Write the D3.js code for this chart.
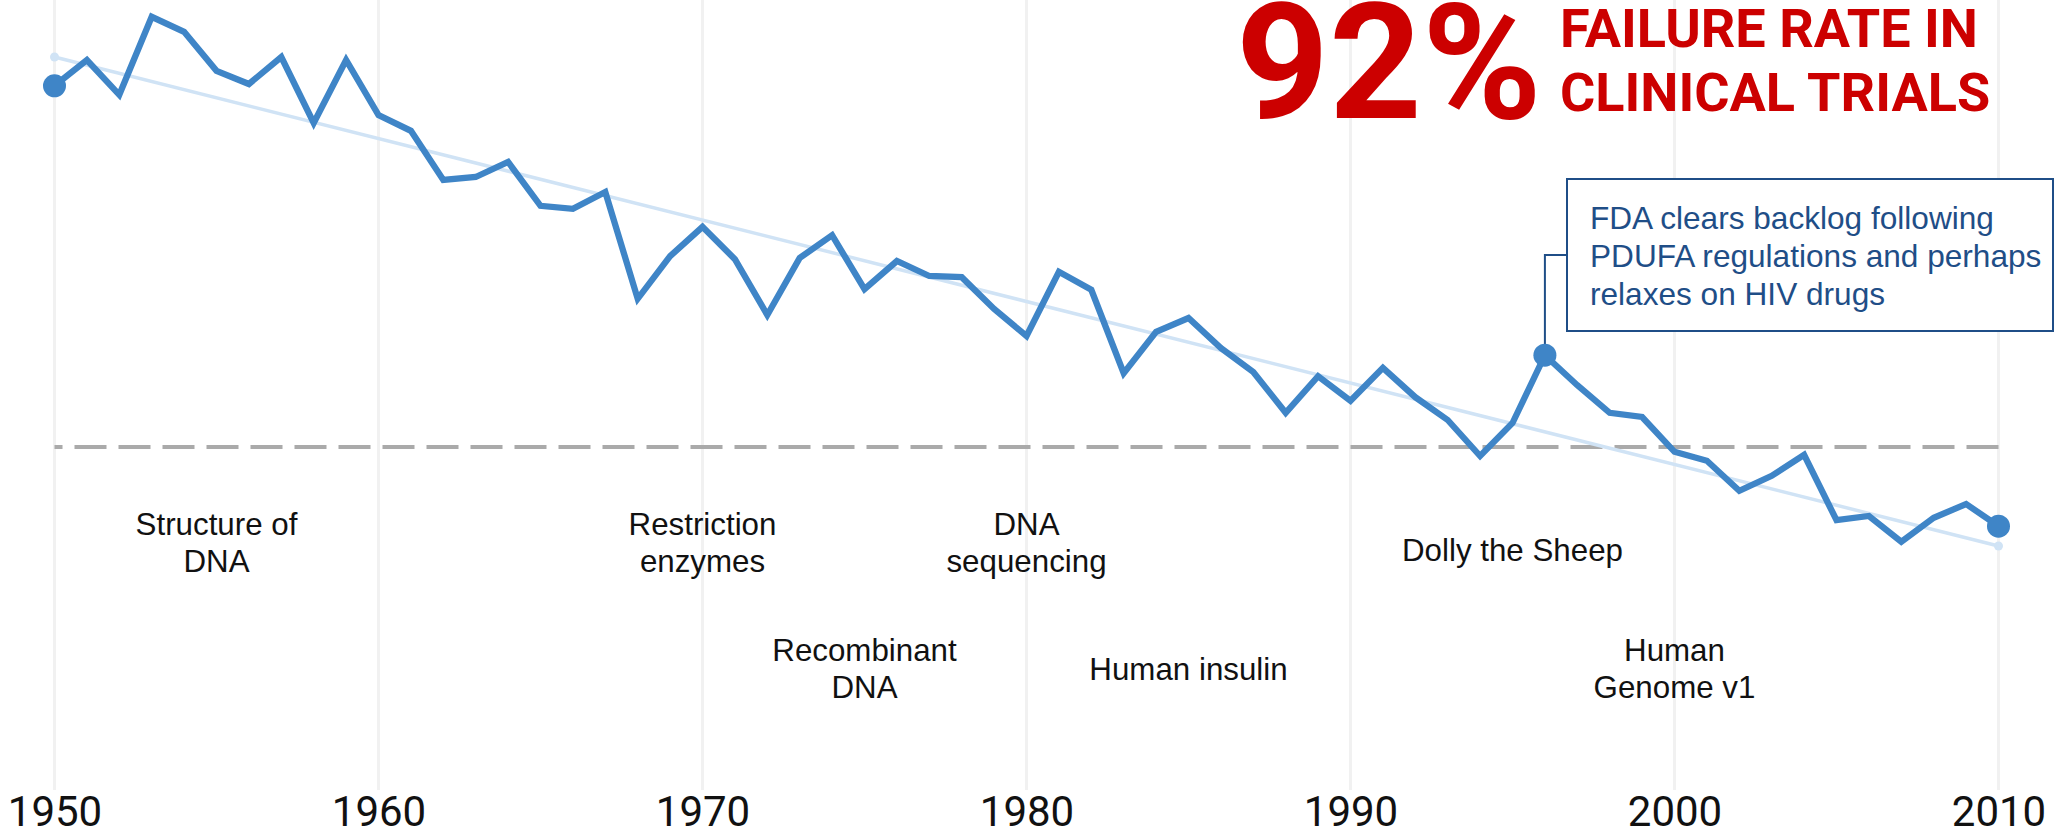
<!DOCTYPE html>
<html>
<head>
<meta charset="utf-8">
<script src="https://cdn.jsdelivr.net/npm/d3@7"></script>
<style>
  html, body { margin: 0; padding: 0; background: #fff; }
  svg { display: block; }
</style>
</head>
<body>
<svg id="chart" width="2059" height="837"></svg>
<script>
// Yearly efficiency index, 1950–2010 (no axis is drawn; the scale is relative)
const years = d3.range(1950, 2011);
const values = [
  85.7, 90.0, 84.2, 97.2, 94.7, 88.2, 86.0, 90.5, 79.5, 90.0,
  80.8, 78.2, 70.0, 70.5, 73.0, 65.7, 65.2, 68.0, 50.2, 57.3,
  62.2, 56.8, 47.5, 57.0, 60.8, 51.8, 56.5, 54.0, 53.8, 48.5,
  44.0, 54.7, 51.7, 37.8, 44.7, 47.0, 42.0, 38.0, 31.2, 37.3,
  33.2, 38.7, 33.8, 30.0, 24.0, 29.5, 40.8, 35.8, 31.2, 30.5,
  24.7, 23.2, 18.2, 20.7, 24.2, 13.3, 14.0, 9.7, 13.7, 16.0,
  12.3
];

// Fitted trend (end points) and reference level
const trendYears = [1950, 2010];
const trendValues = [90.5, 9.0];
const thresholdValue = 25.5;

// Highlighted years
const highlightYears = [1950, 1996, 2010];

// X axis ticks
const tickYears = [1950, 1960, 1970, 1980, 1990, 2000, 2010];

// Scientific milestones
const eventYears = [1955, 1970, 1975, 1980, 1985, 1995, 2000];
const eventLabels = [
  ["Structure of", "DNA"],
  ["Restriction", "enzymes"],
  ["Recombinant", "DNA"],
  ["DNA", "sequencing"],
  ["Human insulin"],
  ["Dolly the Sheep"],
  ["Human", "Genome v1"]
];
const eventRows = [0, 0, 1, 0, 1, 0, 1];

// Callout
const calloutYear = 1996;
const calloutLines = [
  "FDA clears backlog following",
  "PDUFA regulations and perhaps",
  "relaxes on HIV drugs"
];

// Headline
const headlineNumber = "92%";
const headlineLines = ["FAILURE RATE IN", "CLINICAL TRIALS"];

const svg = d3.select("#chart");

const x = d3.scaleLinear().domain([1950, 2010]).range([54.5, 1998.5]);
const y = d3.scaleLinear().domain([0, 100]).range([600, 0]);

const lineBlue = "#3f85c7";
const trendBlue = "#d0e3f5";
const noteBlue = "#1f4e87";

// Vertical gridlines
svg.append("g")
  .selectAll("line")
  .data(tickYears)
  .join("line")
  .attr("x1", d => x(d)).attr("x2", d => x(d))
  .attr("y1", 0).attr("y2", 790)
  .attr("stroke", "#f1f1f1")
  .attr("stroke-width", 3);

// X axis labels
const xAxis = d3.axisBottom(x).tickValues(tickYears).tickFormat(d3.format("d")).tickSize(0).tickPadding(0);
const axisG = svg.append("g").attr("transform", "translate(0,826)").call(xAxis);
axisG.select(".domain").remove();
axisG.selectAll("text")
  .attr("font-family", "Roboto, sans-serif")
  .attr("font-size", 42)
  .attr("fill", "#111")
  .attr("dy", 0)
  .attr("y", 0);

// Reference dashed line, drawn from the right end
svg.append("line")
  .attr("x1", x(2010)).attr("x2", x(1950))
  .attr("y1", y(thresholdValue)).attr("y2", y(thresholdValue))
  .attr("stroke", "#aaaaaa")
  .attr("stroke-width", 4)
  .attr("stroke-dasharray", "32,12");

// Trend line with end markers
const trendData = trendYears.map((t, i) => ({ year: t, value: trendValues[i] }));
svg.append("path")
  .datum(trendData)
  .attr("fill", "none")
  .attr("stroke", trendBlue)
  .attr("stroke-width", 3.5)
  .attr("d", d3.line().x(d => x(d.year)).y(d => y(d.value)));
svg.append("g")
  .selectAll("circle")
  .data(trendData)
  .join("circle")
  .attr("cx", d => x(d.year)).attr("cy", d => y(d.value))
  .attr("r", 4.5)
  .attr("fill", trendBlue);

// Milestone labels
const rowFirstBaseline = [535, 661];
const rowSingleBaseline = [561, 680];
const lineGap = 37;
const evG = svg.append("g")
  .attr("font-family", "'Liberation Sans', Arial, sans-serif")
  .attr("font-size", 31.3)
  .attr("fill", "#111")
  .attr("text-anchor", "middle");
eventYears.forEach((yr, i) => {
  const lines = eventLabels[i];
  const row = eventRows[i];
  const base = lines.length === 1 ? rowSingleBaseline[row] : rowFirstBaseline[row];
  const t = evG.append("text").attr("x", x(yr)).attr("y", base);
  lines.forEach((ln, j) => {
    t.append("tspan").attr("x", x(yr)).attr("y", base + j * lineGap).text(ln);
  });
});

// Main series
const series = years.map((yr, i) => ({ year: yr, value: values[i] }));
svg.append("path")
  .datum(series)
  .attr("fill", "none")
  .attr("stroke", lineBlue)
  .attr("stroke-width", 6.3)
  .attr("stroke-linejoin", "miter")
  .attr("d", d3.line().x(d => x(d.year)).y(d => y(d.value)));

// Callout connector and box
const cVal = values[years.indexOf(calloutYear)];
const boxLeft = 1567, boxTop = 179, boxRight = 2053, boxBottom = 331, elbowY = 255;
svg.append("path")
  .attr("fill", "none")
  .attr("stroke", noteBlue)
  .attr("stroke-width", 2)
  .attr("d", `M${x(calloutYear)},${y(cVal)} V${elbowY} H${boxLeft}`);
svg.append("rect")
  .attr("x", boxLeft).attr("y", boxTop)
  .attr("width", boxRight - boxLeft).attr("height", boxBottom - boxTop)
  .attr("fill", "#fff")
  .attr("stroke", noteBlue)
  .attr("stroke-width", 2);
const noteText = svg.append("text")
  .attr("font-family", "'Liberation Sans', Arial, sans-serif")
  .attr("font-size", 31.6)
  .attr("fill", noteBlue);
calloutLines.forEach((ln, j) => {
  noteText.append("tspan").attr("x", 1590).attr("y", 229 + j * 38).text(ln);
});

// Highlighted points
svg.append("g")
  .selectAll("circle")
  .data(highlightYears)
  .join("circle")
  .attr("cx", d => x(d))
  .attr("cy", d => y(values[years.indexOf(d)]))
  .attr("r", 11.5)
  .attr("fill", lineBlue);

// Headline
svg.append("text")
  .attr("x", 1236).attr("y", 118)
  .attr("font-family", "Roboto, sans-serif")
  .attr("font-weight", 700)
  .attr("font-size", 162)
  .attr("fill", "#cc0000")
  .text(headlineNumber);
const hl = svg.append("text")
  .attr("font-family", "Roboto, sans-serif")
  .attr("font-weight", 700)
  .attr("font-size", 54)
  .attr("fill", "#cc0000");
headlineLines.forEach((ln, j) => {
  hl.append("tspan").attr("x", 1560).attr("y", 47 + j * 64).text(ln);
});
</script>
</body>
</html>
